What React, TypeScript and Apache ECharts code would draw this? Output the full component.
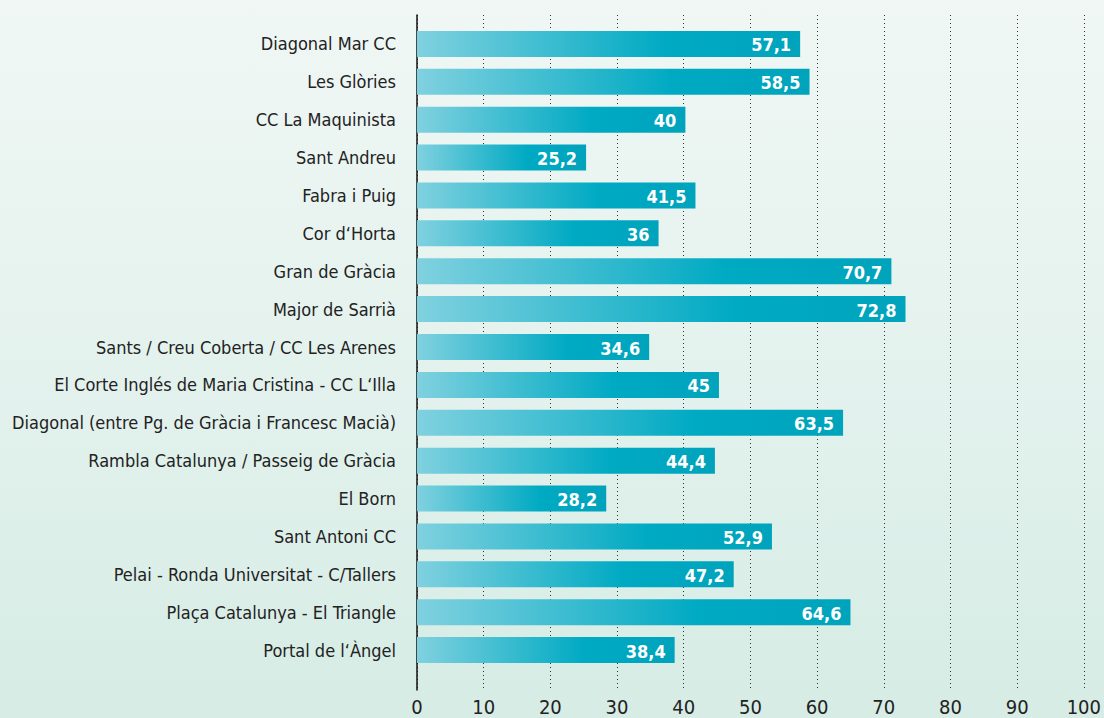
import React, { useEffect, useRef } from "react";
import * as echarts from "echarts";

const categories = [
  "Diagonal Mar CC",
  "Les Glòries",
  "CC La Maquinista",
  "Sant Andreu",
  "Fabra i Puig",
  "Cor d‘Horta",
  "Gran de Gràcia",
  "Major de Sarrià",
  "Sants / Creu Coberta / CC Les Arenes",
  "El Corte Inglés de Maria Cristina - CC L‘Illa",
  "Diagonal (entre Pg. de Gràcia i Francesc Macià)",
  "Rambla Catalunya / Passeig de Gràcia",
  "El Born",
  "Sant Antoni CC",
  "Pelai - Ronda Universitat - C/Tallers",
  "Plaça Catalunya - El Triangle",
  "Portal de l‘Àngel",
];

const values = [57.1, 58.5, 40, 25.2, 41.5, 36, 70.7, 72.8, 34.6, 45, 63.5, 44.4, 28.2, 52.9, 47.2, 64.6, 38.4];

const FONT = "'DejaVu Sans Condensed', 'DejaVu Sans', sans-serif";

export default function App() {
  const ref = useRef<HTMLDivElement>(null);
  useEffect(() => {
    if (!ref.current) return;
    const chart = echarts.init(ref.current, null, { renderer: "svg" });
    chart.setOption({
      animation: false,
      backgroundColor: "transparent",
      grid: [
        { left: 417, right: 16, top: 15, bottom: 28 },
        { left: 417, right: 16, top: 25, bottom: 49 },
      ],
      xAxis: [
        {
          gridIndex: 0,
          type: "value",
          min: 0,
          max: 100,
          interval: 10,
          axisLine: { show: false },
          axisTick: { show: false },
          axisLabel: { fontSize: 20, color: "#222", margin: 7, fontFamily: FONT },
          splitLine: { show: true, lineStyle: { color: "#333", type: [1, 3], width: 1 } },
        },
        {
          gridIndex: 1,
          type: "value",
          min: 0,
          max: 100,
          show: false,
        },
      ],
      yAxis: [
        {
          gridIndex: 0,
          type: "value",
          min: 0,
          max: 1,
          axisLine: { show: true, lineStyle: { color: "#111", width: 1.5 } },
          axisTick: { show: false },
          axisLabel: { show: false },
          splitLine: { show: false },
        },
        {
          gridIndex: 1,
          type: "category",
          inverse: true,
          data: categories,
          axisLine: { show: false },
          axisTick: { show: false },
          axisLabel: { fontSize: 18, color: "#222", margin: 21, fontFamily: FONT },
        },
      ],
      series: [
        {
          type: "bar",
          xAxisIndex: 1,
          yAxisIndex: 1,
          data: values,
          barWidth: 26,
          itemStyle: {
            color: new echarts.graphic.LinearGradient(0, 0, 1, 0, [
              { offset: 0, color: "#80d1df" },
              { offset: 0.65, color: "#00aac3" },
              { offset: 1, color: "#00a3bc" },
            ]),
          },
          label: {
            show: true,
            position: "insideRight",
            offset: [-4, 1],
            color: "#fff",
            fontWeight: "bold",
            fontSize: 18,
            fontFamily: FONT,
            formatter: (p: any) => String(p.value).replace(".", ","),
          },
        },
      ],
    });
    return () => chart.dispose();
  }, []);
  return (
    <div
      style={{
        position: "absolute",
        left: 0,
        top: 0,
        width: 1104,
        height: 718,
        background: "linear-gradient(to bottom, #f0f7f4 0%, #e4f2ee 50%, #d6ece5 100%)",
      }}
    >
      <div ref={ref} style={{ width: 1104, height: 718 }} />
    </div>
  );
}
